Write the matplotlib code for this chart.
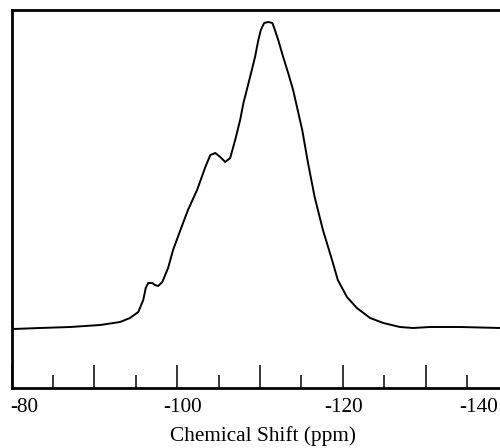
import numpy as np
import matplotlib
matplotlib.use("Agg")
import matplotlib.pyplot as plt
import matplotlib.transforms as mtransforms

plt.rcParams['font.family'] = ['Liberation Serif', 'DejaVu Serif']
plt.rcParams['axes.unicode_minus'] = False

# 29Si NMR spectrum (intensity in arbitrary units)
shift_ppm = [-80.2, -83.4, -87.1, -90.7, -93.1, -94.3, -95.3, -95.9, -96.2, -96.5,
             -97.0, -97.3, -97.7, -98.2, -98.9, -99.5, -100.3, -101.3, -102.4, -103.4,
             -104.0, -104.6, -105.2, -105.8, -106.4, -107.0, -107.6, -108.0, -108.4, -108.8,
             -109.4, -109.8, -110.1, -110.5, -111.0, -111.5, -111.8, -112.2, -112.8, -113.4,
             -114.0, -115.1, -115.8, -116.6, -117.6, -118.7, -119.4, -120.5, -121.7, -123.3,
             -124.9, -126.9, -128.5, -130.5, -134.2, -139.0, -140.0]
intensity = [59, 60, 61, 63, 66, 70, 76, 88, 100, 105,
             105, 103, 102, 106, 120, 138, 156, 178, 198, 221,
             233, 235, 231, 226, 230, 248, 268, 285, 298, 311,
             331, 348, 358, 365, 366, 365, 358, 348, 331, 315,
             298, 258, 225, 191, 158, 128, 108, 91, 80, 70,
             65, 61, 60, 61, 61, 60, 59]

major_ticks = [-80, -90, -100, -110, -120, -130, -140]
minor_ticks = [-85, -95, -105, -115, -125, -135]
label_values = ['-80', '-100', '-120', '-140']
label_shift_px = [13, 5, 1, -30]   # labels sit a little off their ticks in the original

fig = plt.figure(figsize=(5.0, 4.48), dpi=100)
# axes runs past the right edge of the picture (the -140 end is cropped)
ax = fig.add_axes([11.6 / 500, 60 / 448, 496.8 / 500, 378 / 448])

ax.plot(shift_ppm, intensity, color='black', lw=1.4,
        solid_joinstyle='round', solid_capstyle='round')

ax.set_xlim(-80, -140)
ax.set_ylim(0, 378)

ax.set_xticks(major_ticks)
ax.set_xticks(minor_ticks, minor=True)
ax.set_xticklabels([str(v) if str(v) in label_values else '' for v in major_ticks])
ax.tick_params(axis='x', which='major', direction='in', length=16.5, width=1.1,
               pad=7, labelsize=15.3)
ax.tick_params(axis='x', which='minor', direction='in', length=9.5, width=1.1)
ax.set_yticks([])

for lab in ax.get_xticklabels():
    txt = lab.get_text()
    if txt in label_values:
        dx = label_shift_px[label_values.index(txt)]
        lab.set_transform(lab.get_transform() +
                          mtransforms.ScaledTranslation(dx / 100, 0, fig.dpi_scale_trans))

for sp in ax.spines.values():
    sp.set_linewidth(2.0)

ax.set_xlabel('Chemical Shift (ppm)', fontsize=15.3)
ax.xaxis.set_label_coords((262.5 - 11.6) / 496.8, -0.10)

fig.savefig('out.png', dpi=100)
